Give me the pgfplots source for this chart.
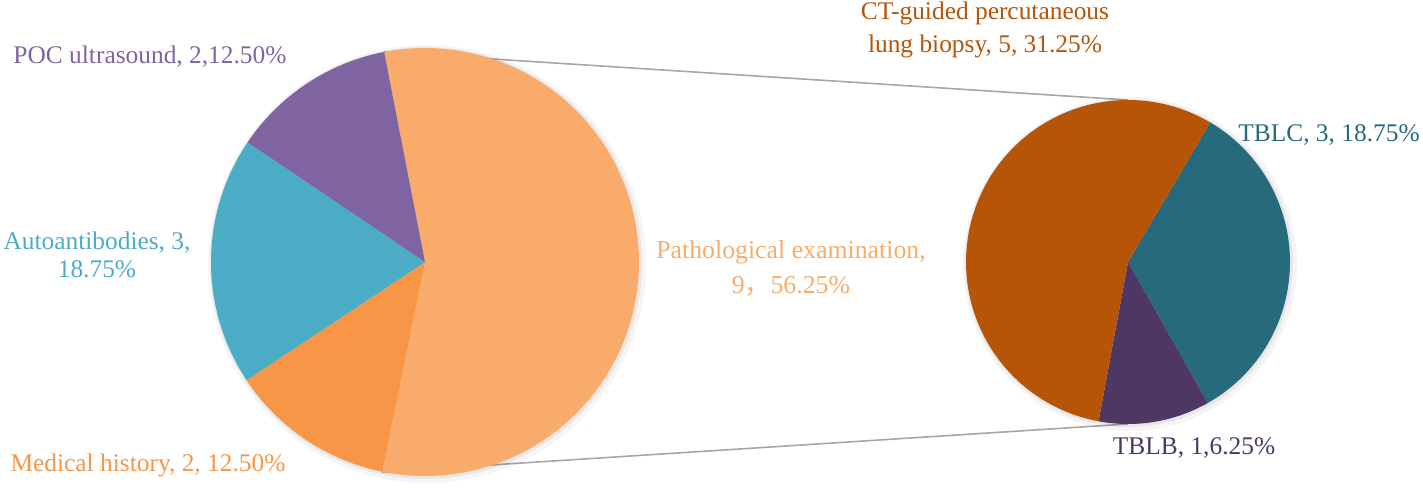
\documentclass[border=0pt]{standalone}
\usepackage{pgfplots}
\pgfplotsset{compat=1.18}
\usepackage{fontspec}
\setmainfont{Liberation Serif}
\newfontfamily\cjk{Noto Sans CJK SC}
\definecolor{cPatho}{HTML}{F9AB6B}
\definecolor{cMed}{HTML}{F69646}
\definecolor{cAuto}{HTML}{4BACC6}
\definecolor{cPOC}{HTML}{8064A2}
\definecolor{cCT}{HTML}{B65408}
\definecolor{cTBLC}{HTML}{266A7B}
\definecolor{cTBLB}{HTML}{4E3863}
\definecolor{cLine}{HTML}{A6A6A6}
% #1 cx, #2 cy, #3 r, #4 start angle, #5 count before, #6 count, #7 total, #8 style
\newcommand{\sector}[8]{%
  \addplot[#8, draw=none, variable=\t, samples at={-1,0,1,...,100}]
    ({#1 + ifthenelse(\t<0,0,#3)*cos(#4 - 360*(#5 + #6*max(\t,0)/100)/#7)},
     {#2 + ifthenelse(\t<0,0,#3)*sin(#4 - 360*(#5 + #6*max(\t,0)/100)/#7)});
}
\begin{document}
\begin{tikzpicture}[every node/.style={font=\fontsize{12.7bp}{14bp}\selectfont, align=center, inner sep=0pt}]
\begin{axis}[scale only axis, width=711.5bp, height=248bp,
  xmin=0, xmax=1423, ymin=0, ymax=496, hide axis, clip=false]
% connector lines
\addplot[cLine, line width=0.8bp] coordinates {(384,444) (1128,396)};
\addplot[cLine, line width=0.8bp] coordinates {(382,24) (1128,72)};
% soft shadows
\sector{427}{232}{219}{0}{0}{1}{1}{fill=black, fill opacity=0.04}
\sector{426}{233}{216}{0}{0}{1}{1}{fill=black, fill opacity=0.06}
\sector{1130}{232}{167}{0}{0}{1}{1}{fill=black, fill opacity=0.04}
\sector{1129}{233}{164}{0}{0}{1}{1}{fill=black, fill opacity=0.06}
% left pie: Pathological 9, Medical history 2, Autoantibodies 3, POC ultrasound 2 (total 16)
\sector{425}{234}{214}{101}{0}{9}{16}{fill=cPatho}
\sector{425}{234}{214}{101}{9}{2}{16}{fill=cMed}
\sector{425}{234}{214}{101}{11}{3}{16}{fill=cAuto}
\sector{425}{234}{214}{101}{14}{2}{16}{fill=cPOC}
% right pie: TBLC 3, TBLB 1, CT-guided 5 (total 9)
\sector{1128}{234}{162}{59.5}{0}{3}{9}{fill=cTBLC}
\sector{1128}{234}{162}{59.5}{3}{1}{9}{fill=cTBLB}
\sector{1128}{234}{162}{59.5}{4}{5}{9}{fill=cCT}
% labels
\node[text=cPOC] at (axis cs:150,439) {POC ultrasound, 2,12.50\%};
\node[text=cAuto] at (axis cs:97,241) {Autoantibodies, 3,\\18.75\%};
\node[text=cMed] at (axis cs:148,31) {Medical history, 2, 12.50\%};
\node[text=cPatho, font=\fontsize{12.9bp}{17.5bp}\selectfont] at (axis cs:791,228) {Pathological examination,\\9{\cjk ，}56.25\%};
\node[text=cCT, font=\fontsize{12.7bp}{16.5bp}\selectfont] at (axis cs:985,466) {CT-guided percutaneous\\lung biopsy, 5, 31.25\%};
\node[text=cTBLC] at (axis cs:1329,361) {TBLC, 3, 18.75\%};
\node[text=cTBLB] at (axis cs:1194,48) {TBLB, 1,6.25\%};
\end{axis}
\pgfresetboundingbox
\path (current axis.south west) rectangle (current axis.north east);
\end{tikzpicture}
\end{document}
